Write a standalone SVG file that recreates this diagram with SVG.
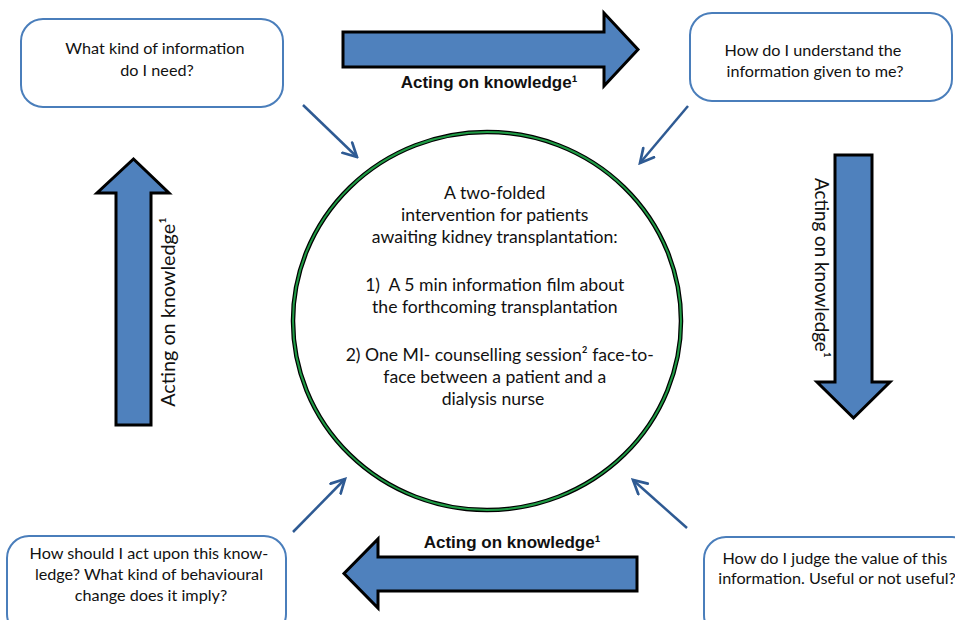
<svg xmlns="http://www.w3.org/2000/svg" width="955" height="620" viewBox="0 0 955 620">
  <style>
    .box { fill: #ffffff; stroke: #4a7ebb; stroke-width: 2; }
    .txt { font-family: Lato, "Liberation Sans", sans-serif; fill: #111111; text-anchor: middle; }
    .node { font-size: 16.2px; }
    .core { font-size: 17.6px; }
    .block { fill: #4f81bd; stroke: #000000; stroke-width: 3; stroke-linejoin: miter; }
    .lbl-bold { font-family: "Liberation Sans", Arial, sans-serif; font-weight: bold; font-size: 17px; fill: #111111; text-anchor: middle; }
    .lbl-side { font-family: Lato, "Liberation Sans", sans-serif; fill: #111111; text-anchor: middle; }
    .link { stroke: #2e5a93; stroke-width: 2.5; fill: none; marker-end: url(#open-head); }
  </style>
  <defs>
    <marker id="open-head" viewBox="0 0 12 12" refX="10.5" refY="6" markerWidth="17" markerHeight="17" markerUnits="userSpaceOnUse" orient="auto">
      <path d="M1,1 L10.5,6 L1,11" fill="none" stroke="#2e5a93" stroke-width="1.9" stroke-linecap="round" stroke-linejoin="miter"/>
    </marker>
  </defs>

  <rect width="955" height="620" fill="#ffffff"/>

  <!-- central intervention circle: green ring with thin black edges -->
  <g id="intervention">
    <ellipse cx="487" cy="321" rx="194" ry="189" fill="#ffffff" stroke="#000000" stroke-width="4.5"/>
    <ellipse cx="487" cy="321" rx="194" ry="189" fill="none" stroke="#1f9b45" stroke-width="2"/>
    <text class="txt core">
      <tspan x="497" y="199">A two-folded</tspan>
      <tspan x="497" y="221">intervention for patients</tspan>
      <tspan x="497" y="243">awaiting kidney transplantation:</tspan>
      <tspan x="497" y="291">1)&#160; A 5 min information film about</tspan>
      <tspan x="497" y="313">the forthcoming transplantation</tspan>
      <tspan x="502" y="361">2) One MI- counselling session² face-to-</tspan>
      <tspan x="497" y="383">face between a patient and a</tspan>
      <tspan x="493" y="405">dialysis nurse</tspan>
    </text>
  </g>

  <!-- question boxes -->
  <g id="need">
    <rect class="box" x="21" y="19" width="262" height="88" rx="22"/>
    <text class="txt node">
      <tspan x="157" y="54">What kind of information</tspan>
      <tspan x="157" y="76">do I need?</tspan>
    </text>
  </g>

  <g id="understand">
    <rect class="box" x="690" y="13" width="262" height="88" rx="22"/>
    <text class="txt node">
      <tspan x="815" y="56">How do I understand the</tspan>
      <tspan x="815" y="77">information given to me?</tspan>
    </text>
  </g>

  <g id="judge">
    <rect class="box" x="704" y="537" width="270" height="100" rx="22"/>
    <text class="txt node">
      <tspan x="837" y="564">How do I judge the value of this</tspan>
      <tspan x="837" y="584">information. Useful or not useful?</tspan>
    </text>
  </g>

  <g id="act">
    <rect class="box" x="7" y="536" width="279" height="100" rx="22"/>
    <text class="txt node">
      <tspan x="151" y="559">How should I act upon this know-</tspan>
      <tspan x="151" y="580">ledge? What kind of behavioural</tspan>
      <tspan x="151" y="601">change does it imply?</tspan>
    </text>
  </g>

  <!-- cycle arrows between the boxes -->
  <g id="cycle">
    <g id="cycle-top">
      <path class="block" d="M343,32 L604,32 L604,13 L638,49.5 L604,86 L604,67 L343,67 Z"/>
      <text class="lbl-bold" x="489" y="88">Acting on knowledge¹</text>
    </g>
    <g id="cycle-right">
      <path class="block" d="M835,155 L872,155 L872,382 L890,382 L853.5,418 L817,382 L835,382 Z"/>
      <text class="lbl-side" font-size="18.8" transform="translate(815,268) rotate(90)" x="0" y="0">Acting on knowledge¹</text>
    </g>
    <g id="cycle-bottom">
      <path class="block" d="M637,557 L378,557 L378,539 L344,573.5 L378,608 L378,591 L637,591 Z"/>
      <text class="lbl-bold" x="512" y="548">Acting on knowledge¹</text>
    </g>
    <g id="cycle-left">
      <path class="block" d="M116,425 L116,193 L97,193 L133.5,159 L169,193 L151,193 L151,425 Z"/>
      <text class="lbl-side" font-size="19.8" transform="translate(175,312) rotate(-90)" x="0" y="0">Acting on knowledge¹</text>
    </g>
  </g>

  <!-- connectors from each box into the intervention -->
  <g id="connectors">
    <line class="link" x1="303" y1="105" x2="357" y2="157"/>
    <line class="link" x1="688" y1="106" x2="640" y2="163"/>
    <line class="link" x1="293" y1="532" x2="345" y2="479"/>
    <line class="link" x1="687" y1="528" x2="633" y2="480"/>
  </g>
</svg>
